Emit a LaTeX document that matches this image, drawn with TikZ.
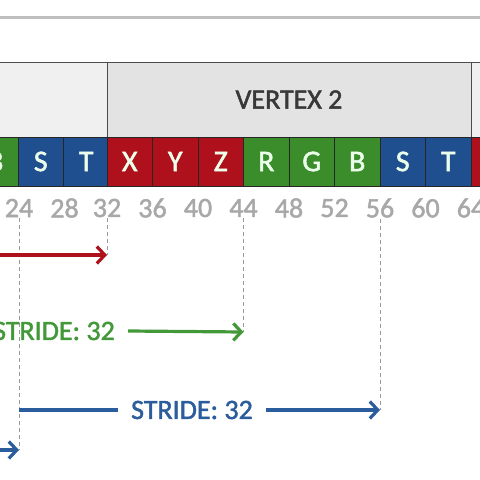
\documentclass[tikz,border=0pt]{standalone}
\usepackage{fontspec}
\setmainfont{Carlito}
\newfontfamily\slide[FakeBold=1.6]{Carlito}
\usetikzlibrary{calc}
\usetikzlibrary{arrows.meta}
\definecolor{vred}{HTML}{AE101C}
\definecolor{vgreen}{HTML}{3A8D2A}
\definecolor{vblue}{HTML}{1F4F8F}
\definecolor{tgreen}{HTML}{43993A}
\definecolor{tblue}{HTML}{2B5C9C}
\definecolor{lbl}{HTML}{A8A8A8}

\begin{document}
\begin{tikzpicture}[x=1pt, y=-1pt,
        cell/.style={draw=black!85, fill=#1, minimum width=45.5pt, minimum height=49pt,
            inner sep=0pt, outer sep=0pt, text=white!92!green, font=\slide\fontsize{30}{32}\selectfont},
        hdr/.style={draw=black!70, fill=#1, minimum height=75pt, inner sep=0pt, outer sep=0pt,
            text=black!78, font=\slide\fontsize{28}{30}\selectfont},
        byte/.style={text=lbl, inner sep=1pt, font=\slide\fontsize{28}{30}\selectfont},
        guide/.style={draw=black!40, line width=0.8pt, dash pattern=on 4pt off 3pt},
        stride/.style={line width=3.2pt, -{Straight Barb[length=8pt,width=17pt]}},
        slabel/.style={inner sep=13pt, font=\slide\fontsize{28}{30}\selectfont}
    ]
    \useasboundingbox (0,0) rectangle (480,480);
    \clip (0,0) rectangle (480,480);
    \fill[white] (0,0) rectangle (480,480);
    \def\w{45.5}
    \def\vx{107}

    \draw[black!25, line width=3pt] (0,17) -- (480,17);

    \node[hdr=black!6, minimum width=160pt, anchor=east] (v1) at (\vx,99.5) {};
    \node[hdr=black!11, minimum width=8*\w pt, anchor=west] (v2) at (\vx,99.5) {VERTEX 2};
    \node[hdr=black!6, minimum width=100pt, anchor=west] (v3) at (v2.east) {};

    \foreach \l/\c [count=\i from 0] in {B/vgreen, S/vblue, T/vblue, X/vred, Y/vred, Z/vred,
            R/vgreen, G/vgreen, B/vgreen, S/vblue, T/vblue, X/vred}
    {
        \node[cell=\c] (c\i) at ({\vx+\w*(\i-2.5)+(\i<3)*2}, 161.5) {\l};
    }

    \foreach \b in {24,28,...,64}
    {
        \node[byte] (b\b) at ({\vx+\w*(\b-32)/4+(\b<32)*3}, 208) {\b};
    }

    \coordinate (rs) at (-5,255);
    \coordinate (rt) at (b32 |- 0,255);
    \coordinate (gt) at (b44 |- 0,332);
    \coordinate (bs) at (b24 |- 0,410);
    \coordinate (bt) at (b56 |- 0,410);
    \coordinate (ps) at (-5,450);
    \coordinate (pt) at (b24 |- 0,450);

    \draw[guide] (b24.south) -- (pt);
    \draw[guide] (b32.south) -- (rt);
    \draw[guide] (b44.south) -- (gt);
    \draw[guide] (b56.south) -- (bt);

    \draw[stride, vred] (rs) -- (rt);

    \node[slabel, text=tgreen] (gl) at (54,331) {STRIDE: 32};
    \draw[stride, tgreen] (gl.east) -- (gt);

    \node[slabel, text=tblue] (bl) at (192,410) {STRIDE: 32};
    \draw[line width=3.2pt, tblue] (bs) -- (bl.west);
    \draw[stride, tblue] (bl.east) -- (bt);

    \draw[stride, tblue] (ps) -- (pt);
\end{tikzpicture}
\end{document}
